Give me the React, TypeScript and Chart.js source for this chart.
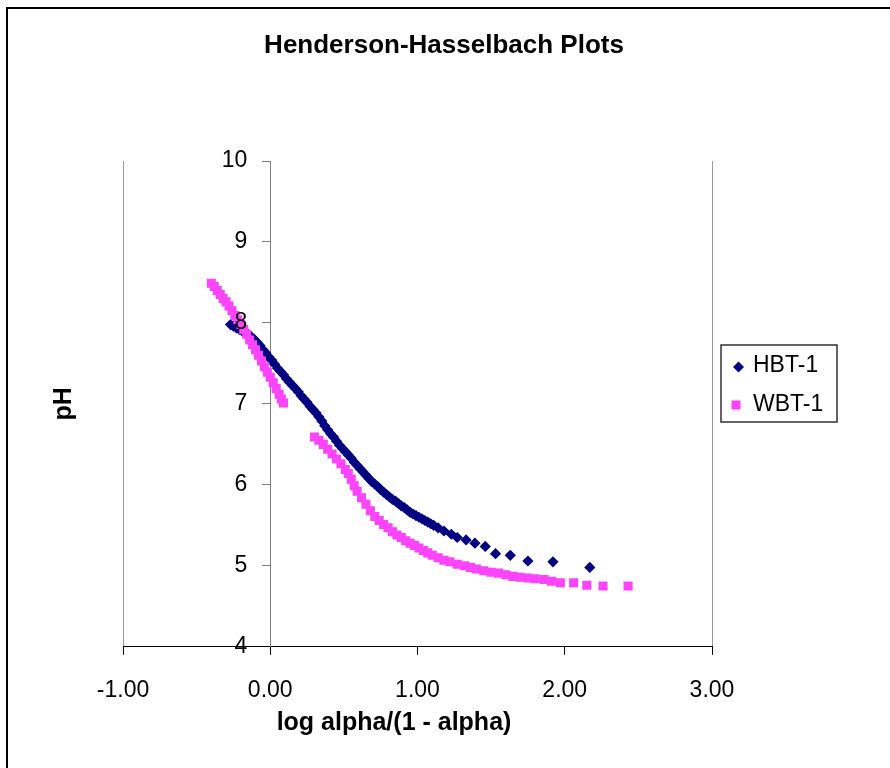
import React, { useEffect, useRef } from "react";
import { Chart, registerables } from "chart.js";

Chart.register(...registerables);

// ---- data ----
const hbtX = [
  -0.27, -0.25, -0.23, -0.21, -0.19, -0.17, -0.15, -0.13, -0.11, -0.09,
  -0.07, -0.05, -0.03, -0.01, 0.01, 0.03, 0.05, 0.07, 0.09, 0.11,
  0.13, 0.15, 0.17, 0.19, 0.21, 0.23, 0.25, 0.27, 0.29, 0.31,
  0.33, 0.35, 0.37, 0.39, 0.41, 0.43, 0.45, 0.47, 0.49, 0.51,
  0.53, 0.55, 0.57, 0.59, 0.61, 0.63, 0.65, 0.67, 0.69, 0.71,
  0.73, 0.75, 0.77, 0.79, 0.81, 0.83, 0.85, 0.87, 0.89, 0.91,
  0.93, 0.95, 0.97, 0.99, 1.01, 1.03, 1.05, 1.07, 1.09, 1.11,
  1.14, 1.18, 1.23, 1.27, 1.33, 1.39, 1.46, 1.53, 1.63, 1.75,
  1.92, 2.17,
];
const hbtY = [
  7.98, 7.96, 7.94, 7.92, 7.9, 7.88, 7.86, 7.83, 7.8, 7.76,
  7.72, 7.67, 7.63, 7.58, 7.54, 7.49, 7.44, 7.4, 7.36, 7.31,
  7.27, 7.23, 7.19, 7.15, 7.1, 7.06, 7.02, 6.97, 6.93, 6.89,
  6.84, 6.79, 6.73, 6.68, 6.63, 6.59, 6.54, 6.49, 6.45, 6.41,
  6.37, 6.33, 6.28, 6.24, 6.2, 6.16, 6.12, 6.08, 6.04, 6.01,
  5.98, 5.94, 5.91, 5.88, 5.85, 5.82, 5.8, 5.77, 5.74, 5.72,
  5.69, 5.66, 5.64, 5.62, 5.6, 5.58, 5.56, 5.54, 5.52, 5.5,
  5.47, 5.43, 5.39, 5.35, 5.32, 5.28, 5.24, 5.15, 5.13, 5.06,
  5.05, 4.98,
];

const wbtX = [
  -0.4, -0.38, -0.36, -0.34, -0.32, -0.3, -0.28, -0.26, -0.24, -0.22,
  -0.2, -0.18, -0.16, -0.14, -0.12, -0.1, -0.08, -0.06, -0.04, -0.02,
  0.0, 0.02, 0.04, 0.06, 0.075, 0.09,
  0.3, 0.33, 0.36, 0.39, 0.42, 0.45, 0.48, 0.51, 0.53, 0.55,
  0.57, 0.59, 0.62, 0.65, 0.68, 0.71, 0.74, 0.77, 0.8, 0.83,
  0.86, 0.89, 0.92, 0.95, 0.98, 1.01, 1.04, 1.07, 1.1, 1.14,
  1.18, 1.22, 1.27, 1.32, 1.36, 1.4, 1.45, 1.5, 1.55, 1.6,
  1.65, 1.7, 1.75, 1.8, 1.86, 1.91, 1.97, 2.06, 2.15, 2.26, 2.43,
];
const wbtY = [
  8.49, 8.45, 8.4, 8.35, 8.3, 8.26, 8.21, 8.15, 8.09, 8.04,
  7.98, 7.92, 7.86, 7.79, 7.73, 7.67, 7.6, 7.53, 7.46, 7.39,
  7.33, 7.26, 7.19, 7.12, 7.06, 7.01,
  6.59, 6.55, 6.5, 6.44, 6.38, 6.32, 6.26, 6.19, 6.14, 6.07,
  5.99, 5.92, 5.84, 5.76, 5.68, 5.61, 5.56, 5.51, 5.47, 5.42,
  5.38, 5.35, 5.31, 5.28, 5.25, 5.22, 5.19, 5.16, 5.13, 5.1,
  5.07, 5.05, 5.02, 5.0, 4.98, 4.96, 4.94, 4.92, 4.91, 4.89,
  4.87, 4.86, 4.85, 4.84, 4.83, 4.81, 4.79, 4.79, 4.76, 4.75, 4.75,
];

const xTickValues = [-1, 0, 1, 2, 3];
const yTickValues = [4, 5, 6, 7, 8, 9, 10];
const seriesNames = ["HBT-1", "WBT-1"];
const chartTitle = "Henderson-Hasselbach Plots";
const xAxisTitle = "log alpha/(1 - alpha)";
const yAxisTitle = "pH";

// ---- styles ----
const FONT = "'Liberation Sans', Arial, Helvetica, sans-serif";
const NAVY = "#000080";
const PINK = "#FF44FF";

const decorPlugin = {
  id: "decor",
  afterDraw(chart: any) {
    const { ctx, chartArea } = chart;
    const xs = chart.scales.x;
    const ys = chart.scales.y;
    ctx.save();
    // outer chart frame (left & top visible)
    ctx.strokeStyle = "#000";
    ctx.lineWidth = 2;
    ctx.beginPath();
    ctx.moveTo(7, chart.height + 5);
    ctx.lineTo(7, 8);
    ctx.lineTo(chart.width + 5, 8);
    ctx.stroke();

    // chart title
    ctx.fillStyle = "#000";
    ctx.font = `bold 26px ${FONT}`;
    ctx.textAlign = "center";
    ctx.textBaseline = "middle";
    ctx.fillText(chartTitle, 444, 46);

    // x axis title
    ctx.font = `bold 25px ${FONT}`;
    ctx.fillText(xAxisTitle, 394, 723);

    // y tick labels, left of the axis that crosses at x = 0
    const axisX = xs.getPixelForValue(0);
    ctx.font = `23px ${FONT}`;
    ctx.textAlign = "right";
    ctx.textBaseline = "middle";
    ys.ticks.forEach((t: any) => {
      ctx.fillText(String(t.value), axisX - 23, ys.getPixelForValue(t.value));
    });

    // y axis title
    ctx.save();
    ctx.font = `bold 25px ${FONT}`;
    ctx.textAlign = "center";
    ctx.translate(64, (chartArea.top + chartArea.bottom) / 2);
    ctx.rotate(-Math.PI / 2);
    ctx.fillText(yAxisTitle, 0, 0);
    ctx.restore();

    // legend box
    const lx = 721, ly = 345, lw = 116, lh = 77;
    ctx.fillStyle = "#fff";
    ctx.fillRect(lx, ly, lw, lh);
    ctx.strokeStyle = "#333";
    ctx.lineWidth = 1.5;
    ctx.strokeRect(lx, ly, lw, lh);

    // legend markers
    ctx.fillStyle = NAVY;
    const dx = 738.5, dy = 367, r = 5.5;
    ctx.beginPath();
    ctx.moveTo(dx - r, dy);
    ctx.lineTo(dx, dy - r);
    ctx.lineTo(dx + r, dy);
    ctx.lineTo(dx, dy + r);
    ctx.closePath();
    ctx.fill();
    ctx.fillStyle = PINK;
    ctx.fillRect(736 - 4.5, 405 - 4.5, 9, 9);

    ctx.fillStyle = "#000";
    ctx.font = `23px ${FONT}`;
    ctx.textAlign = "left";
    ctx.textBaseline = "middle";
    ctx.fillText(seriesNames[0], 753, 366);
    ctx.fillText(seriesNames[1], 753, 405);
    ctx.restore();
  },
};

export default function App() {
  const ref = useRef<HTMLCanvasElement | null>(null);

  useEffect(() => {
    if (!ref.current) return;
    const hbt = hbtX.map((x, i) => ({ x, y: hbtY[i] }));
    const wbt = wbtX.map((x, i) => ({ x, y: wbtY[i] }));
    const chart = new Chart(ref.current, {
      type: "scatter",
      data: {
        datasets: [
          {
            label: seriesNames[0],
            data: hbt,
            pointStyle: "rectRot",
            pointRadius: 5.6,
            pointHoverRadius: 5.6,
            pointBorderWidth: 0,
            backgroundColor: NAVY,
            borderColor: NAVY,
            order: 1,
          },
          {
            label: seriesNames[1],
            data: wbt,
            pointStyle: "rect",
            pointRadius: 6.4,
            pointHoverRadius: 6.4,
            pointBorderWidth: 0,
            backgroundColor: PINK,
            borderColor: PINK,
            order: 0,
          },
        ],
      },
      options: {
        responsive: false,
        animation: false,
        events: [],
        layout: { padding: { left: 123, right: 178, top: 161, bottom: 41.6 } },
        plugins: {
          legend: { display: false },
          tooltip: { enabled: false },
          title: { display: false },
        },
        scales: {
          x: {
            type: "linear",
            min: -1,
            max: 3,
            afterBuildTicks: (scale: any) => {
              scale.ticks = xTickValues.map((v) => ({ value: v }));
            },
            ticks: {
              color: "#000",
              font: { family: FONT, size: 23 },
              padding: 22,
              maxRotation: 0,
              callback: (v: any) => Number(v).toFixed(2),
            },
            grid: {
              display: true,
              drawOnChartArea: true,
              tickLength: 8,
              tickColor: "#000",
              lineWidth: 1,
              color: (c: any) =>
                c.tick && (c.tick.value === -1 || c.tick.value === 3) ? "#9a9a9a" : "rgba(0,0,0,0)",
            },
            border: { display: true, color: "#000", width: 1 },
            title: { display: false },
          },
          y: {
            type: "linear",
            min: 4,
            max: 10,
            position: { x: 0 } as any,
            afterBuildTicks: (scale: any) => {
              scale.ticks = yTickValues.map((v) => ({ value: v }));
            },
            ticks: {
              display: false,
              font: { family: FONT, size: 23 },
            },
            grid: {
              display: true,
              drawOnChartArea: false,
              tickLength: 8,
              tickColor: "#808080",
            },
            border: { display: true, color: "#808080", width: 1 },
          },
        },
      },
      plugins: [decorPlugin],
    } as any);
    return () => chart.destroy();
  }, []);

  return (
    <div style={{ position: "absolute", left: 0, top: 0, width: 890, height: 768, background: "#fff" }}>
      <canvas ref={ref} width={890} height={768} style={{ display: "block" }} />
    </div>
  );
}
